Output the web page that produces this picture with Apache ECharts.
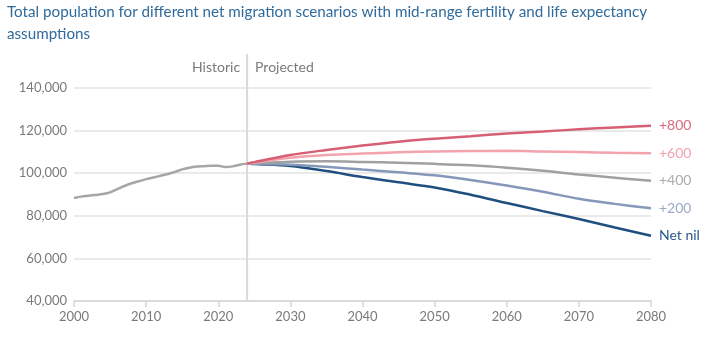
<!DOCTYPE html>
<html>
<head>
<meta charset="utf-8">
<script src="https://cdn.jsdelivr.net/npm/echarts@6/dist/echarts.min.js"></script>
<style>
  html, body { margin: 0; padding: 0; background: #fff; }
  #chart { width: 711px; height: 338px; }
</style>
</head>
<body>
<div id="chart"></div>
<script>
// Historic estimates, 2000–2024
const historicYears = [2000, 2001, 2002, 2003, 2004, 2005, 2006, 2007, 2008, 2009, 2010, 2011, 2012,
  2013, 2014, 2015, 2016, 2017, 2018, 2019, 2020, 2021, 2022, 2023, 2024];
const historicValues = [88400, 89000, 89400, 89800, 90200, 91000, 92500, 94000, 95300, 96200, 97200, 98000, 98800,
  99600, 100600, 101800, 102600, 103100, 103300, 103500, 103500, 102900, 103200, 104000, 104500];

// Projections by annual net migration scenario
const projYears = [2024, 2025, 2030, 2035, 2040, 2045, 2050, 2055, 2060, 2065, 2070, 2075, 2080];
const plus800 = [104500, 105200, 108500, 110900, 113000, 114800, 116200, 117400, 118600, 119600, 120600, 121500, 122300];
const plus600 = [104500, 105000, 107200, 108500, 109200, 109800, 110200, 110400, 110500, 110200, 109900, 109600, 109400];
const plus400 = [104500, 104700, 105400, 105600, 105300, 104900, 104400, 103700, 102600, 101200, 99400, 97900, 96400];
const plus200 = [104500, 104400, 104000, 103000, 101700, 100400, 99000, 96800, 94200, 91300, 88000, 85600, 83500];
const netNil  = [104500, 104300, 103400, 101000, 98200, 95700, 93300, 89900, 86000, 82200, 78500, 74500, 70600];

const scenarioNames = ['+800', '+600', '+400', '+200', 'Net nil'];
const scenarioValues = [plus800, plus600, plus400, plus200, netNil];
const lineColors = ['#d65f74', '#f3a3ae', '#a0a0a0', '#8598ba', '#1f4f7f'];
const labelColors = ['#d96a7e', '#f2a2ad', '#ababab', '#9aa9c6', '#2a5a8a'];

const xTicks = { min: 2000, max: 2080, step: 10 };
const yTicks = { min: 40000, max: 140000, step: 20000 };
const splitYear = 2024;

const titleText = 'Total population for different net migration scenarios with mid-range fertility and life expectancy\nassumptions';

const FONT = 'Lato, "Open Sans", sans-serif';

const pair = (xs, ys) => xs.map((x, i) => [x, ys[i]]);

const series = [{
  name: 'Historic',
  type: 'line',
  data: pair(historicYears, historicValues),
  showSymbol: false,
  smooth: 0.3,
  lineStyle: { color: '#a6a6a6', width: 2.5 },
  z: 3
}];

scenarioNames.forEach((name, i) => {
  series.push({
    name: name,
    type: 'line',
    data: pair(projYears, scenarioValues[i]),
    showSymbol: false,
    smooth: 0.35,
    lineStyle: { color: lineColors[i], width: 2.5 },
    z: 10 - i,
    endLabel: {
      show: true,
      formatter: name,
      color: labelColors[i],
      fontFamily: FONT,
      fontSize: 14,
      distance: 8
    }
  });
});

const chart = echarts.init(document.getElementById('chart'), null, { renderer: 'canvas' });

chart.setOption({
  animation: false,
  backgroundColor: '#ffffff',
  grid: { left: 74, right: 60, top: 88, bottom: 37, containLabel: false },
  xAxis: {
    type: 'value',
    min: xTicks.min,
    max: xTicks.max,
    interval: xTicks.step,
    axisLine: { show: true, lineStyle: { color: '#d6d6d6', width: 1.5 } },
    axisTick: { show: true, length: 6, lineStyle: { color: '#d6d6d6', width: 1.5 } },
    splitLine: { show: false },
    axisLabel: {
      color: '#7a7a7a',
      fontFamily: FONT,
      fontSize: 13,
      margin: 9,
      formatter: v => String(v)
    }
  },
  yAxis: {
    type: 'value',
    min: yTicks.min,
    max: yTicks.max,
    interval: yTicks.step,
    axisLine: { show: false },
    axisTick: { show: false },
    splitLine: { show: true, lineStyle: { color: '#e3e3e3', width: 1.5 } },
    axisLabel: {
      color: '#7a7a7a',
      fontFamily: FONT,
      fontSize: 13,
      margin: 7,
      formatter: v => v.toLocaleString('en-US')
    }
  },
  series: series
});

// Divider between historic and projected periods, positioned from the axes
const splitBottom = chart.convertToPixel({ gridIndex: 0 }, [splitYear, yTicks.min]);
const splitTop = chart.convertToPixel({ gridIndex: 0 }, [splitYear, yTicks.max]);
const dividerTop = splitTop[1] - 34;
chart.setOption({
  graphic: [
    {
      type: 'text',
      x: 7,
      y: 1.5,
      style: {
        text: titleText,
        fill: '#306a9b',
        font: '15.2px ' + FONT,
        lineHeight: 22,
        align: 'left',
        verticalAlign: 'top'
      }
    },
    {
      type: 'line',
      shape: { x1: splitBottom[0], y1: dividerTop, x2: splitBottom[0], y2: splitBottom[1] },
      style: { stroke: '#d9d9d9', lineWidth: 2 },
      z: 1
    },
    {
      type: 'text',
      x: splitBottom[0] - 7,
      y: dividerTop + 13,
      style: {
        text: 'Historic',
        fill: '#7a7a7a',
        font: '14px ' + FONT,
        align: 'right',
        verticalAlign: 'middle'
      }
    },
    {
      type: 'text',
      x: splitBottom[0] + 8,
      y: dividerTop + 13,
      style: {
        text: 'Projected',
        fill: '#7a7a7a',
        font: '14px ' + FONT,
        align: 'left',
        verticalAlign: 'middle'
      }
    }
  ]
});
</script>
</body>
</html>
